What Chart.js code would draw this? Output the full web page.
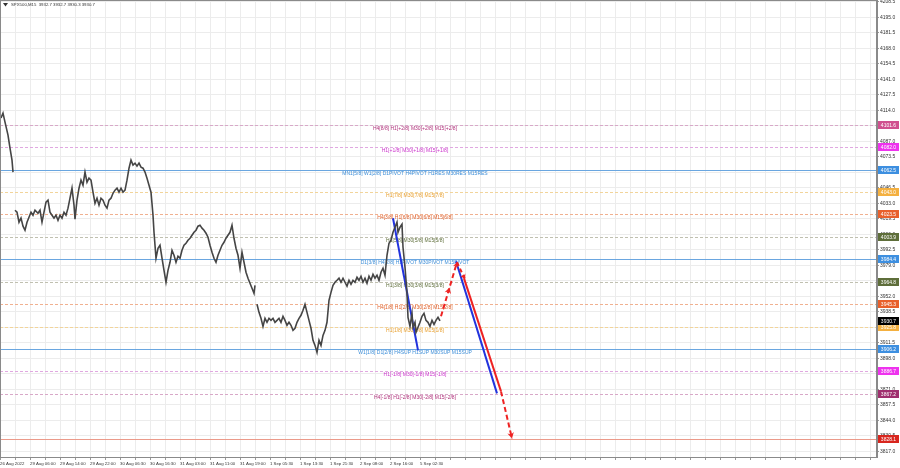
<!DOCTYPE html>
<html><head><meta charset="utf-8">
<script src="https://cdn.jsdelivr.net/npm/chart.js@4.4.0/dist/chart.umd.min.js"></script>
<style>html,body{margin:0;padding:0;background:#fff;}canvas{display:block;}</style>
</head><body>
<canvas id="c" width="900" height="468"></canvas>
<script>
// ---------- DATA ----------
const titleText = "SPX500,M15  3932.7 3932.7 3930.3 3930.7";
const xLabels = ["26 Aug 2022","29 Aug 06:00","29 Aug 14:00","29 Aug 22:00","30 Aug 06:30","30 Aug 16:30","31 Aug 03:00","31 Aug 11:00","31 Aug 19:00","1 Sep 05:30","1 Sep 13:30","1 Sep 21:30","2 Sep 08:00","2 Sep 16:00","5 Sep 02:30"];
const yTicks = [4208.5,4195.0,4181.5,4168.0,4154.5,4141.0,4127.5,4114.0,4100.5,4087.0,4073.5,4060.0,4046.5,4033.0,4019.5,4006.0,3992.5,3979.0,3965.5,3952.0,3938.5,3925.0,3911.5,3898.0,3884.5,3871.0,3857.5,3844.0,3830.5,3817.0];

const priceX = [1,3,5,8,10,12,13,14,
15,17,19,21,23,25,27,29,31,33,35,38,40,42,44,46,48,50,52,54,56,58,60,62,64,66,68,70,72,74,75,77,79,81,83,85,87,89,91,93,95,97,99,101,103,105,107,109,111,113,115,117,119,121,123,125,127,129,131,133,135,137,139,141,143,145,147,149,151,153,154,156,158,160,162,164,166,168,170,172,174,176,178,180,182,184,186,188,190,192,194,196,198,200,202,204,206,208,210,212,214,216,218,220,222,224,226,228,230,232,234,236,238,240,242,244,246,248,250,252,254,255,256,
257,259,261,263,265,267,269,271,273,275,277,279,281,283,285,287,289,291,293,295,297,299,301,303,305,307,309,311,313,315,317,319,321,323,325,327,329,331,333,335,337,339,341,343,345,347,349,351,353,355,357,359,361,363,365,367,369,371,373,375,377,379,381,383,385,387,389,391,393,395,397,398,400,402,403,405,407,408,410,412,413,415,416,418,420,422,424,426,428,430,432,434,436,438,440];
const priceY = [4107.4,4111.7,4103.9,4092.5,4081.2,4070.7,4060.3,null,
4027.1,4025.4,4016.7,4020.2,4013.2,4009.7,4016.7,4021.0,4025.4,4022.8,4027.1,4024.5,4027.1,4016.7,4025.4,4034.1,4035.9,4025.4,4022.8,4020.2,4022.8,4018.4,4022.8,4020.2,4025.4,4022.8,4028.9,4037.6,4046.3,4031.5,4019.3,4035.9,4046.3,4053.3,4048.9,4060.3,4051.5,4055.0,4053.3,4042.8,4033.2,4037.6,4031.5,4037.6,4035.9,4031.5,4028.9,4035.9,4037.6,4041.9,4044.6,4046.3,4042.8,4046.3,4042.8,4044.6,4053.3,4063.7,4070.7,4066.4,4068.1,4065.5,4068.1,4064.6,4063.7,4060.3,4055.0,4048.9,4042.8,4022.8,4007.9,3985.3,3994.0,3996.6,3985.3,3974.8,3964.4,3974.8,3981.8,3992.2,3987.9,3981.8,3987.0,3985.3,3992.2,3996.6,3998.4,4001.0,4002.7,4005.3,4007.9,4009.7,4013.2,4014.1,4011.5,4009.7,4007.1,4003.6,3996.6,3990.5,3985.3,3981.8,3987.9,3992.2,3996.6,3999.2,4002.7,4005.3,4007.9,4014.1,4002.7,3994.0,3987.9,3976.6,3990.5,3981.8,3973.1,3967.8,3963.5,3959.1,3954.7,3961.7,null,
3945.2,3938.2,3933.0,3926.0,3933.0,3929.5,3933.0,3931.2,3933.0,3929.5,3931.2,3933.0,3929.5,3934.7,3931.2,3926.9,3929.5,3926.9,3922.5,3924.3,3929.5,3933.0,3935.6,3940.0,3945.2,3938.2,3931.2,3924.3,3913.8,3909.4,3903.3,3913.8,3909.4,3918.1,3922.5,3929.5,3948.7,3955.6,3961.7,3964.4,3966.1,3967.9,3964.4,3967.9,3964.4,3960.9,3966.1,3962.6,3966.1,3964.4,3968.7,3966.1,3969.6,3964.4,3967.9,3963.5,3969.6,3966.1,3971.3,3967.9,3970.5,3966.1,3973.1,3976.6,3970.5,3987.9,3998.4,4001.0,4007.9,4012.3,4016.7,4007.9,4012.3,4014.9,3994.9,3977.4,3954.8,3933.8,3926.0,3937.3,3925.2,3929.5,3920.8,3925.2,3929.5,3934.7,3937.3,3931.2,3929.5,3926.0,3931.2,3927.7,3931.2,3933.9,3930.7];

const currentPrice = 3930.7;
const levelValues = [4101.6,4082.0,4062.5,4043.0,4023.5,4003.9,3984.4,3964.8,3945.3,3925.8,3906.2,3886.7,3867.2,3828.1];
const levelLabels = ["H4[8/8] H1[+2/8] M30[+2/8] M15[+2/8]","H1[+1/8] M30[+1/8] M15[+1/8]","MN1[5/8] W1[2/8] D1PIVOT H4PIVOT H1RES M30RES M15RES","H1[7/8] M30[7/8] M15[7/8]","H4[3/8] H1[6/8] M30[6/8] M15[6/8]","H1[5/8] M30[5/8] M15[5/8]","D1[3/8] H4[2/8] H1PIVOT M30PIVOT M15PIVOT","H1[3/8] M30[3/8] M15[3/8]","H4[1/8] H1[2/8] M30[2/8] M15[2/8]","H1[1/8] M30[1/8] M15[1/8]","W1[1/8] D1[2/8] H4SUP H1SUP M30SUP M15SUP","H1[-1/8] M30[-1/8] M15[-1/8]","H4[-1/8] H1[-2/8] M30[-2/8] M15[-2/8]",""];

const blueAX = [393,418], blueAY = [4020.1,3905.1];
const redUpX = [441,457], redUpY = [3934.7,3981.8];
const redTurnX = [457,465], redTurnY = [3981.8,3967.0];
const blueBX = [456,497], blueBY = [3982.7,3867.6];
const redCX = [464,501], redCY = [3967.8,3869.3];
const redDownX = [501,512], redDownY = [3869.3,3828.3];

// ---------- STYLES ----------
const MAG='#cc33cc', BLUE='#3d8ed8', GOLD='#e8a030', ORED='#e0602a', OLIVE='#5e6e3a', MAUVE='#b0307a';
const levelStyles = [
 {line:'#d8a8c8',dash:[3,2],text:MAUVE,tag:'#d0508f'},
 {line:'#e0a8e0',dash:[3,2],text:MAG,tag:'#ee33ee'},
 {line:'#6aa6e0',dash:[],text:BLUE,tag:'#3d8fe0'},
 {line:'#f2d49a',dash:[3,2],text:GOLD,tag:'#f4b040'},
 {line:'#f0b090',dash:[3,2],text:ORED,tag:'#e8602c'},
 {line:'#c0c0b0',dash:[3,2],text:OLIVE,tag:'#5e6e3a'},
 {line:'#6aa6e0',dash:[],text:BLUE,tag:'#3d8fe0'},
 {line:'#c0c0b0',dash:[3,2],text:OLIVE,tag:'#5e6e3a'},
 {line:'#f0b090',dash:[3,2],text:ORED,tag:'#e8602c'},
 {line:'#f2d49a',dash:[3,2],text:GOLD,tag:'#f4b040'},
 {line:'#6aa6e0',dash:[],text:BLUE,tag:'#3d8fe0'},
 {line:'#e0a8e0',dash:[3,2],text:MAG,tag:'#ee33ee'},
 {line:'#d8a8c8',dash:[3,2],text:MAUVE,tag:'#a0306f'},
 {line:'#eb9a8a',dash:[],text:'#d02020',tag:'#d8261e'}
];
const FONT = '"Liberation Sans", Arial, sans-serif';

function pts(xs, ys){ return xs.map((x,i)=>({x:x, y:ys[i]})); }

function arrowHead(ctx, tx, ty, ang, size, color){
  ctx.save();
  ctx.translate(tx,ty); ctx.rotate(ang);
  ctx.fillStyle=color;
  ctx.beginPath(); ctx.moveTo(0,0); ctx.lineTo(-size, -size*0.55); ctx.lineTo(-size*0.7,0); ctx.lineTo(-size, size*0.55); ctx.closePath(); ctx.fill();
  ctx.restore();
}

const overlay = {
  id:'overlay',
  beforeDatasetsDraw(chart){
    const {ctx, chartArea:a, scales:{x,y}} = chart;
    ctx.save();
    levelValues.forEach((v,i)=>{
      const s = levelStyles[i];
      const py = Math.round(y.getPixelForValue(v))+0.5;
      ctx.strokeStyle=s.line; ctx.lineWidth=1; ctx.setLineDash(s.dash);
      ctx.beginPath(); ctx.moveTo(a.left,py); ctx.lineTo(a.right,py); ctx.stroke();
      if(levelLabels[i]){
        ctx.setLineDash([]);
        ctx.fillStyle=s.text; ctx.font='5px '+FONT; ctx.textAlign='center'; ctx.textBaseline='top';
        ctx.fillText(levelLabels[i], x.getPixelForValue(415), py+0.5);
      }
    });
    ctx.restore();
  },
  afterDraw(chart){
    const {ctx, chartArea:a, scales:{x,y}} = chart;
    ctx.save();
    ctx.strokeStyle='#8a8a8a'; ctx.lineWidth=1; ctx.setLineDash([]);
    ctx.strokeRect(a.left+0.5, a.top+0.5, a.right-a.left-1, a.bottom-a.top);
    const m = i => chart.getDatasetMeta(i).data;
    let d = m(2);
    let ang = Math.atan2(d[1].y-d[0].y, d[1].x-d[0].x);
    arrowHead(ctx,(d[0].x+d[1].x)/2+2*Math.cos(ang),(d[0].y+d[1].y)/2+2*Math.sin(ang),ang,6,'#ee2222');
    arrowHead(ctx,d[1].x,d[1].y,ang,5,'#ee2222');
    d = m(3); ang = Math.atan2(d[1].y-d[0].y, d[1].x-d[0].x);
    arrowHead(ctx,d[1].x,d[1].y,ang,5,'#ee2222');
    d = m(6); ang = Math.atan2(d[1].y-d[0].y, d[1].x-d[0].x);
    arrowHead(ctx,d[1].x,d[1].y,ang,6,'#ee2222');
    ctx.font='5px '+FONT; ctx.textAlign='center'; ctx.textBaseline='middle';
    const tag=(v,bg)=>{
      const py=Math.round(y.getPixelForValue(v));
      ctx.fillStyle=bg; ctx.fillRect(a.right+1, py-4, 21, 8);
      ctx.fillStyle='#ffffff'; ctx.fillText(v.toFixed(1), a.right+11.5, py+0.5);
    };
    levelValues.forEach((v,i)=>tag(v, levelStyles[i].tag));
    tag(currentPrice,'#000000');
    ctx.fillStyle='#333';
    ctx.beginPath(); ctx.moveTo(3,3); ctx.lineTo(8,3); ctx.lineTo(5.5,6.5); ctx.closePath(); ctx.fill();
    ctx.font='4.3px '+FONT; ctx.textAlign='left'; ctx.textBaseline='middle';
    ctx.fillText(titleText, 11, 5);
    ctx.restore();
  }
};

const lineDs = (data,color,w,dash)=>({data, borderColor:color, borderWidth:w, borderDash:dash||[], pointRadius:0, fill:false, tension:0, spanGaps:false});

new Chart(document.getElementById('c'), {
  type:'line',
  data:{ datasets:[
    lineDs(pts(priceX,priceY),'#454545',1.6),
    lineDs(pts(blueAX,blueAY),'#2233dd',2),
    lineDs(pts(redUpX,redUpY),'#ee2222',2,[5,3]),
    lineDs(pts(redTurnX,redTurnY),'#ee2222',2,[4,3]),
    lineDs(pts(blueBX,blueBY),'#2233dd',2),
    lineDs(pts(redCX,redCY),'#ee2222',2),
    lineDs(pts(redDownX,redDownY),'#ee2222',2,[5,3])
  ]},
  options:{
    responsive:false, animation:false, devicePixelRatio:1,
    layout:{padding:0},
    plugins:{legend:{display:false}, tooltip:{enabled:false}},
    scales:{
      x:{ type:'linear', min:0, max:877, position:'bottom',
        afterBuildTicks(s){ const t=[]; for(let v=0; v<=870; v+=15) t.push({value:v}); s.ticks=t; },
        afterFit(s){ s.height=11; s.paddingLeft=0; s.paddingRight=0; },
        ticks:{ autoSkip:false, maxRotation:0, align:'start', padding:1, color:'#333', font:{size:4.3, family:FONT},
          callback:(v)=> (v%30===0 && xLabels[v/30]) ? xLabels[v/30] : '' },
        grid:{ color:'#ececec', lineWidth:1, tickLength:3, tickColor:'#999' },
        border:{ color:'#8a8a8a' }
      },
      y:{ type:'linear', position:'right', min:3812.2, max:4210.2,
        afterBuildTicks(s){ s.ticks = yTicks.map(v=>({value:v})); },
        afterFit(s){ s.width=23; s.paddingTop=0; s.paddingBottom=0; },
        ticks:{ padding:1, color:'#333', font:{size:5, family:FONT}, callback:(v)=>Number(v).toFixed(1) },
        grid:{ color:'#ececec', lineWidth:1, tickLength:2, tickColor:'#999' },
        border:{ color:'#8a8a8a' }
      }
    }
  },
  plugins:[overlay]
});
</script>
</body></html>
